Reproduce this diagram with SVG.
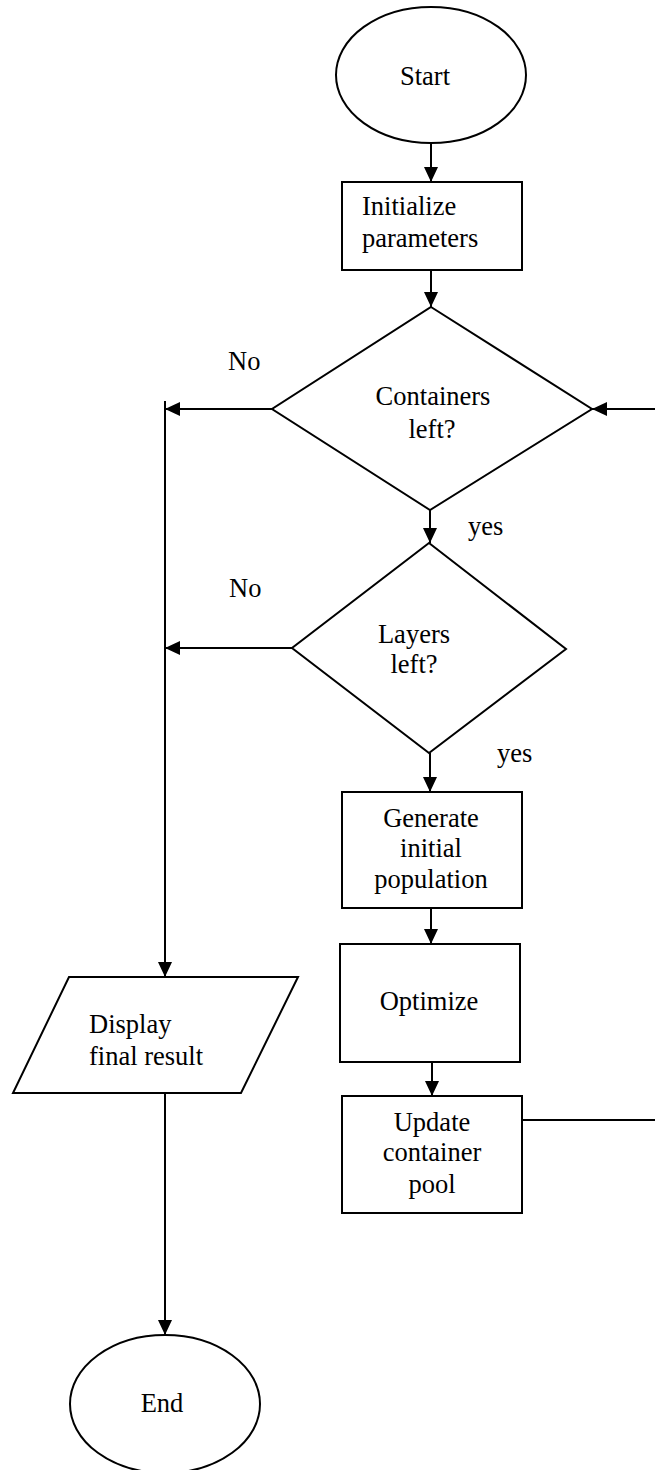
<svg xmlns="http://www.w3.org/2000/svg" width="655" height="1470" viewBox="0 0 655 1470">
  <style>
    .shape { fill: #ffffff; stroke: #000000; stroke-width: 2; }
    .edge { fill: none; stroke: #000000; stroke-width: 2; }
    text { font-family: "Liberation Serif", "Times New Roman", serif; font-size: 26.5px; fill: #000000; }
    .c { text-anchor: middle; }
  </style>
  <defs>
    <marker id="arrow" markerUnits="userSpaceOnUse" markerWidth="16" markerHeight="14" refX="15" refY="7" orient="auto">
      <path d="M0,0 L15,7 L0,14 Z" fill="#000000"/>
    </marker>
  </defs>

  <rect x="0" y="0" width="655" height="1470" fill="#ffffff"/>

  <g id="connectors">
    <line class="edge" x1="431" y1="143" x2="431" y2="182" marker-end="url(#arrow)"/>
    <line class="edge" x1="431" y1="270" x2="431" y2="307" marker-end="url(#arrow)"/>
    <line class="edge" x1="430" y1="510" x2="430" y2="543" marker-end="url(#arrow)"/>
    <line class="edge" x1="430" y1="753" x2="430" y2="792" marker-end="url(#arrow)"/>
    <line class="edge" x1="431" y1="908" x2="431" y2="944" marker-end="url(#arrow)"/>
    <line class="edge" x1="432" y1="1062" x2="432" y2="1096" marker-end="url(#arrow)"/>
    <!-- No branches to the left rail -->
    <line class="edge" x1="272" y1="409" x2="165" y2="409" marker-end="url(#arrow)"/>
    <line class="edge" x1="292" y1="648" x2="165" y2="648" marker-end="url(#arrow)"/>
    <line class="edge" x1="165" y1="401" x2="165" y2="977" marker-end="url(#arrow)"/>
    <line class="edge" x1="165" y1="1093" x2="165" y2="1335" marker-end="url(#arrow)"/>
    <!-- loop back from the update step -->
    <path class="edge" d="M522,1120 H657 V409 H592" marker-end="url(#arrow)"/>
  </g>

  <g id="start">
    <ellipse class="shape" cx="431" cy="75" rx="95" ry="68"/>
    <text class="c" x="425" y="85">Start</text>
  </g>

  <g id="init">
    <rect class="shape" x="342" y="182" width="180" height="88"/>
    <text x="362" y="215">Initialize</text>
    <text x="362" y="247">parameters</text>
  </g>

  <g id="containers-left">
    <polygon class="shape" points="431,307 592,409 430,510 272,409"/>
    <text class="c" x="433" y="405">Containers</text>
    <text class="c" x="432" y="438">left?</text>
  </g>

  <g id="layers-left">
    <polygon class="shape" points="429,543 566,649 429,753 292,648"/>
    <text class="c" x="414" y="643">Layers</text>
    <text class="c" x="414" y="673">left?</text>
  </g>

  <g id="generate">
    <rect class="shape" x="342" y="792" width="180" height="116"/>
    <text class="c" x="431" y="827">Generate</text>
    <text class="c" x="431" y="857">initial</text>
    <text class="c" x="431" y="888">population</text>
  </g>

  <g id="optimize">
    <rect class="shape" x="340" y="944" width="180" height="118"/>
    <text class="c" x="429" y="1010">Optimize</text>
  </g>

  <g id="update">
    <rect class="shape" x="342" y="1096" width="180" height="117"/>
    <text class="c" x="432" y="1131">Update</text>
    <text class="c" x="432" y="1161">container</text>
    <text class="c" x="432" y="1193">pool</text>
  </g>

  <g id="display">
    <polygon class="shape" points="69,977 298,977 241,1093 13,1093"/>
    <text x="89" y="1033">Display</text>
    <text x="89" y="1065">final result</text>
  </g>

  <g id="end">
    <ellipse class="shape" cx="165" cy="1404" rx="95" ry="69"/>
    <text class="c" x="162" y="1412">End</text>
  </g>

  <g id="labels">
    <text x="228" y="370">No</text>
    <text x="229" y="597">No</text>
    <text x="468" y="535">yes</text>
    <text x="497" y="762">yes</text>
  </g>
</svg>
